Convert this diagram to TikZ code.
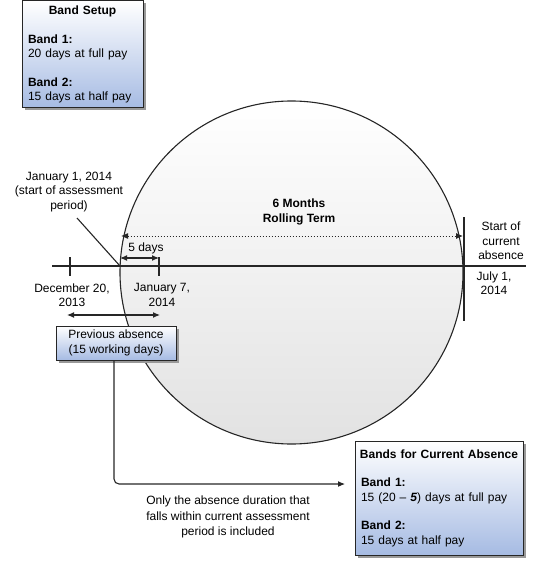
\documentclass[tikz,border=0pt]{standalone}
\usepackage{fontspec}
\setmainfont{Liberation Sans}
\usepackage{xcolor}
\usepackage{tikz}
\usetikzlibrary{shadows,arrows.meta}
\definecolor{boxblue}{RGB}{166,187,227}
\definecolor{circgray}{RGB}{226,226,226}

\begin{document}
\begin{tikzpicture}[x=1pt,y=-1pt,font=\fontsize{12}{14.3}\selectfont,
  >={Latex[length=7pt,width=6pt]},
  infobox/.style={draw=black!85,line width=1pt,top color=white,bottom color=boxblue,
    drop shadow={shadow xshift=2.5pt,shadow yshift=-2.5pt,fill=black!40,opacity=1}},
  lbl/.style={align=center,inner sep=0pt},
  rule/.style={line width=1.1pt,black!85}]
\useasboundingbox (0,0) rectangle (544,561);

% rolling term
\node[circle,draw=black!85,line width=1.1pt,top color=white,bottom color=circgray,
  minimum size=343pt,inner sep=0pt] (term) at (291.5,272.5) {};
\node[lbl,font=\fontsize{12}{14.3}\selectfont\bfseries] (rolling) at (299,212) {6 Months\\Rolling Term};

% time line
\coordinate (axL) at (52,266);
\coordinate (axR) at (526,266);
\draw[rule] (axL) -- (axR);
\coordinate (decT) at (70,257);  \coordinate (decB) at (70,276);
\coordinate (janT) at (159,257); \coordinate (janB) at (159,276);
\coordinate (julT) at (464,217); \coordinate (julB) at (464,321);
\draw[rule] (decT) -- (decB);
\draw[rule] (janT) -- (janB);
\draw[rule] (julT) -- (julB);

\coordinate (startA) at (120,266);
\coordinate (ptr) at (77,218);
\draw[rule] (ptr) -- (startA);
\node[lbl] (jan1) at (69,192) {January 1, 2014\\(start of assessment\\period)};

\coordinate (fiveL) at (120,258);
\coordinate (fiveR) at (159,258);
\draw[rule,<->] (fiveL) -- (fiveR);
\node[lbl] (fivedays) at (146,248) {5 days};

\coordinate (dotL) at (121,236);
\coordinate (dotR) at (463,236);
\draw[line width=1pt,black!85,dotted,<->] (dotL) -- (dotR);

\node[lbl] (dec20) at (72,295) {December 20,\\2013};
\node[lbl] (jan7) at (162,295) {January 7,\\2014};
\node[lbl] (startcur) at (501,241) {Start of\\current\\absence};
\node[lbl] (july1) at (494,283) {July 1,\\2014};

\coordinate (prevL) at (67,315);
\coordinate (prevR) at (160,315);
\draw[rule,<->] (prevL) -- (prevR);

% boxes
\node[infobox,minimum width=120pt,minimum height=34pt,align=center,inner sep=0pt]
  (prev) at (116,343) {Previous absence\\(15 working days)};

\node[infobox,minimum width=121pt,minimum height=107pt,text width=109pt,
  inner xsep=6pt,align=left] (setup) at (82.5,54.5)
  {\makebox[109pt]{\bfseries Band Setup}\\[14.3pt]
   \textbf{Band 1:}\\ 20 days at full pay\\[14.3pt]
   \textbf{Band 2:}\\ 15 days at half pay};

\node[infobox,minimum width=168pt,minimum height=114pt,text width=156pt,
  inner xsep=6pt,align=left] (current) at (439,498)
  {\makebox[156pt]{\bfseries Bands for Current Absence}\\[14.3pt]
   \textbf{Band 1:}\\ 15 (20 -- \textbf{\textit{5}}) days at full pay\\[14.3pt]
   \textbf{Band 2:}\\ 15 days at half pay};

% carry over
\coordinate (arrEnd) at (345,484);
\draw[rule,rounded corners=5pt,->] ([xshift=-2pt]prev.south) |- (arrEnd);
\node[lbl,font=\fontsize{12}{15.5}\selectfont] (note) at (228,517)
  {Only the absence duration that\\falls within current assessment\\period is included};
\end{tikzpicture}
\end{document}
